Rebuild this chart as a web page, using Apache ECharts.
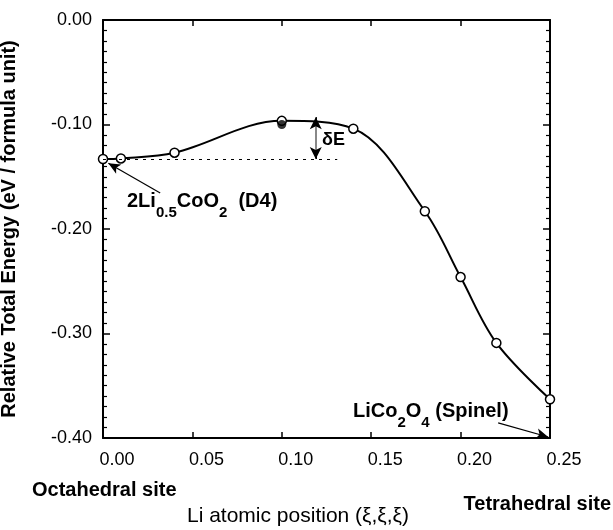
<!DOCTYPE html>
<html>
<head>
<meta charset="utf-8">
<script src="https://cdn.jsdelivr.net/npm/echarts@6/dist/echarts.min.js"></script>
<style>
  html, body { margin: 0; padding: 0; background: #fff; }
  #main { width: 613px; height: 530px; }
</style>
</head>
<body>
<div id="main"></div>
<script>
// Li position (xi) and relative total energy (eV / formula unit)
var liPosition = [0.000, 0.010, 0.040, 0.100, 0.140, 0.180, 0.200, 0.220, 0.250];
var totalEnergy = [-0.133, -0.1325, -0.127, -0.0965, -0.104, -0.183, -0.246, -0.309, -0.363];
// the single filled point
var filledPoint = [0.100, -0.100];
var xTicks = [0.00, 0.05, 0.10, 0.15, 0.20, 0.25];
var yTicks = [0.00, -0.10, -0.20, -0.30, -0.40];

var font = "'Liberation Sans', Arial, Helvetica, sans-serif";
var chart = echarts.init(document.getElementById('main'));

var curve = liPosition.map(function (x, i) { return [x, totalEnergy[i]]; });
var dE_x = 0.119;

function frameAxis(pos, isX) {
  var a = {
    type: 'value', position: pos,
    axisLine: { onZero: false, lineStyle: { color: '#000', width: 2 } },
    axisTick: { inside: true, length: isX ? 6 : 7, lineStyle: { color: '#000', width: 1.5 } },
    splitLine: { show: false }
  };
  if (isX) {
    a.min = xTicks[0]; a.max = xTicks[xTicks.length - 1]; a.interval = 0.05;
  } else {
    a.min = yTicks[yTicks.length - 1]; a.max = yTicks[0]; a.interval = 0.1;
    a.minorTick = { show: true, splitNumber: 10, length: 4, lineStyle: { color: '#000', width: 1.2 } };
  }
  return a;
}

var xBottom = frameAxis('bottom', true);
xBottom.axisLabel = {
  color: '#000', fontSize: 18, fontFamily: font, margin: 13,
  padding: [0, 0, 0, 28],
  formatter: function (v) { return v.toFixed(2); }
};
var xTop = frameAxis('top', true);
xTop.axisLabel = { show: false };

var yLeft = frameAxis('left', false);
yLeft.name = 'Relative Total Energy (eV / formula unit)';
yLeft.nameLocation = 'middle';
yLeft.nameGap = 84;
yLeft.nameTextStyle = { color: '#000', fontSize: 20, fontWeight: 'bold', fontFamily: font };
yLeft.axisLabel = {
  color: '#000', fontSize: 18, fontFamily: font, margin: 11,
  formatter: function (v) { return v.toFixed(2); }
};
var yRight = frameAxis('right', false);
yRight.axisLabel = { show: false };

var richSub = {
  m: { fontSize: 20, fontWeight: 'bold', fontFamily: font, lineHeight: 38, fill: '#000' },
  s: { fontSize: 15, fontWeight: 'bold', fontFamily: font, lineHeight: 8, verticalAlign: 'bottom', fill: '#000' }
};

chart.setOption({
  animation: false,
  grid: { left: 103, right: 63, top: 20, bottom: 92, containLabel: false, outerBoundsMode: 'none' },
  xAxis: [xBottom, xTop],
  yAxis: [yLeft, yRight],
  series: [{
    type: 'line',
    data: curve,
    smooth: 0.35,
    symbol: 'circle',
    symbolSize: 9,
    lineStyle: { color: '#000', width: 2 },
    itemStyle: { color: '#fff', borderColor: '#000', borderWidth: 1.5 },
    z: 3,
    markLine: {
      silent: true,
      animation: false,
      label: { show: false },
      data: [
        // dashed reference level
        [{ coord: [0, totalEnergy[0]], symbol: 'none', lineStyle: { color: '#000', width: 1.2, type: [3, 5] } },
         { coord: [0.131, totalEnergy[0]], symbol: 'none' }],
        // delta E bar
        [{ coord: [dE_x, -0.093], symbol: 'none', lineStyle: { color: '#888', width: 2, type: 'solid' } },
         { coord: [dE_x, totalEnergy[0]], symbol: 'none' }],
        [{ coord: [dE_x, -0.101], symbol: 'none', lineStyle: { color: '#000', width: 1, type: 'solid' } },
         { coord: [dE_x, -0.093], symbol: 'arrow', symbolSize: [9, 12] }],
        [{ coord: [dE_x, -0.125], symbol: 'none', lineStyle: { color: '#000', width: 1, type: 'solid' } },
         { coord: [dE_x, totalEnergy[0]], symbol: 'arrow', symbolSize: [9, 12] }],
        // pointer to 2Li0.5CoO2
        [{ coord: [0.032, -0.1655], symbol: 'none', lineStyle: { color: '#000', width: 1.2, type: 'solid' } },
         { coord: [0.003, -0.137], symbol: 'arrow', symbolSize: [8, 12] }],
        // pointer to spinel
        [{ coord: [0.221, -0.3856], symbol: 'none', lineStyle: { color: '#000', width: 1.2, type: 'solid' } },
         { coord: [0.249, -0.399], symbol: 'arrow', symbolSize: [8, 12] }]
      ]
    }
  }, {
    type: 'scatter',
    data: [filledPoint],
    symbol: 'circle',
    symbolSize: 9,
    itemStyle: { color: '#000' },
    z: 4
  }],
  graphic: [{
    type: 'text', left: 127, top: 191,
    style: { text: '{m|2Li}{s|0.5}{m|CoO}{s|2}{m|  (D4)}', rich: richSub }
  }, {
    type: 'text', left: 353, top: 401,
    style: { text: '{m|LiCo}{s|2}{m|O}{s|4}{m| (Spinel)}', rich: richSub }
  }, {
    type: 'text', left: 322, top: 131,
    style: { text: 'δE', font: 'bold 18px ' + font, fill: '#000' }
  }, {
    type: 'text', left: 32, top: 480,
    style: { text: 'Octahedral site', font: 'bold 20px ' + font, fill: '#000' }
  }, {
    type: 'text', right: 2, top: 494,
    style: { text: 'Tetrahedral site', font: 'bold 20px ' + font, fill: '#000' }
  }, {
    type: 'text', left: 187, top: 506,
    style: { text: 'Li atomic position (ξ,ξ,ξ)', font: '21px ' + font, fill: '#000' }
  }]
});
</script>
</body>
</html>
